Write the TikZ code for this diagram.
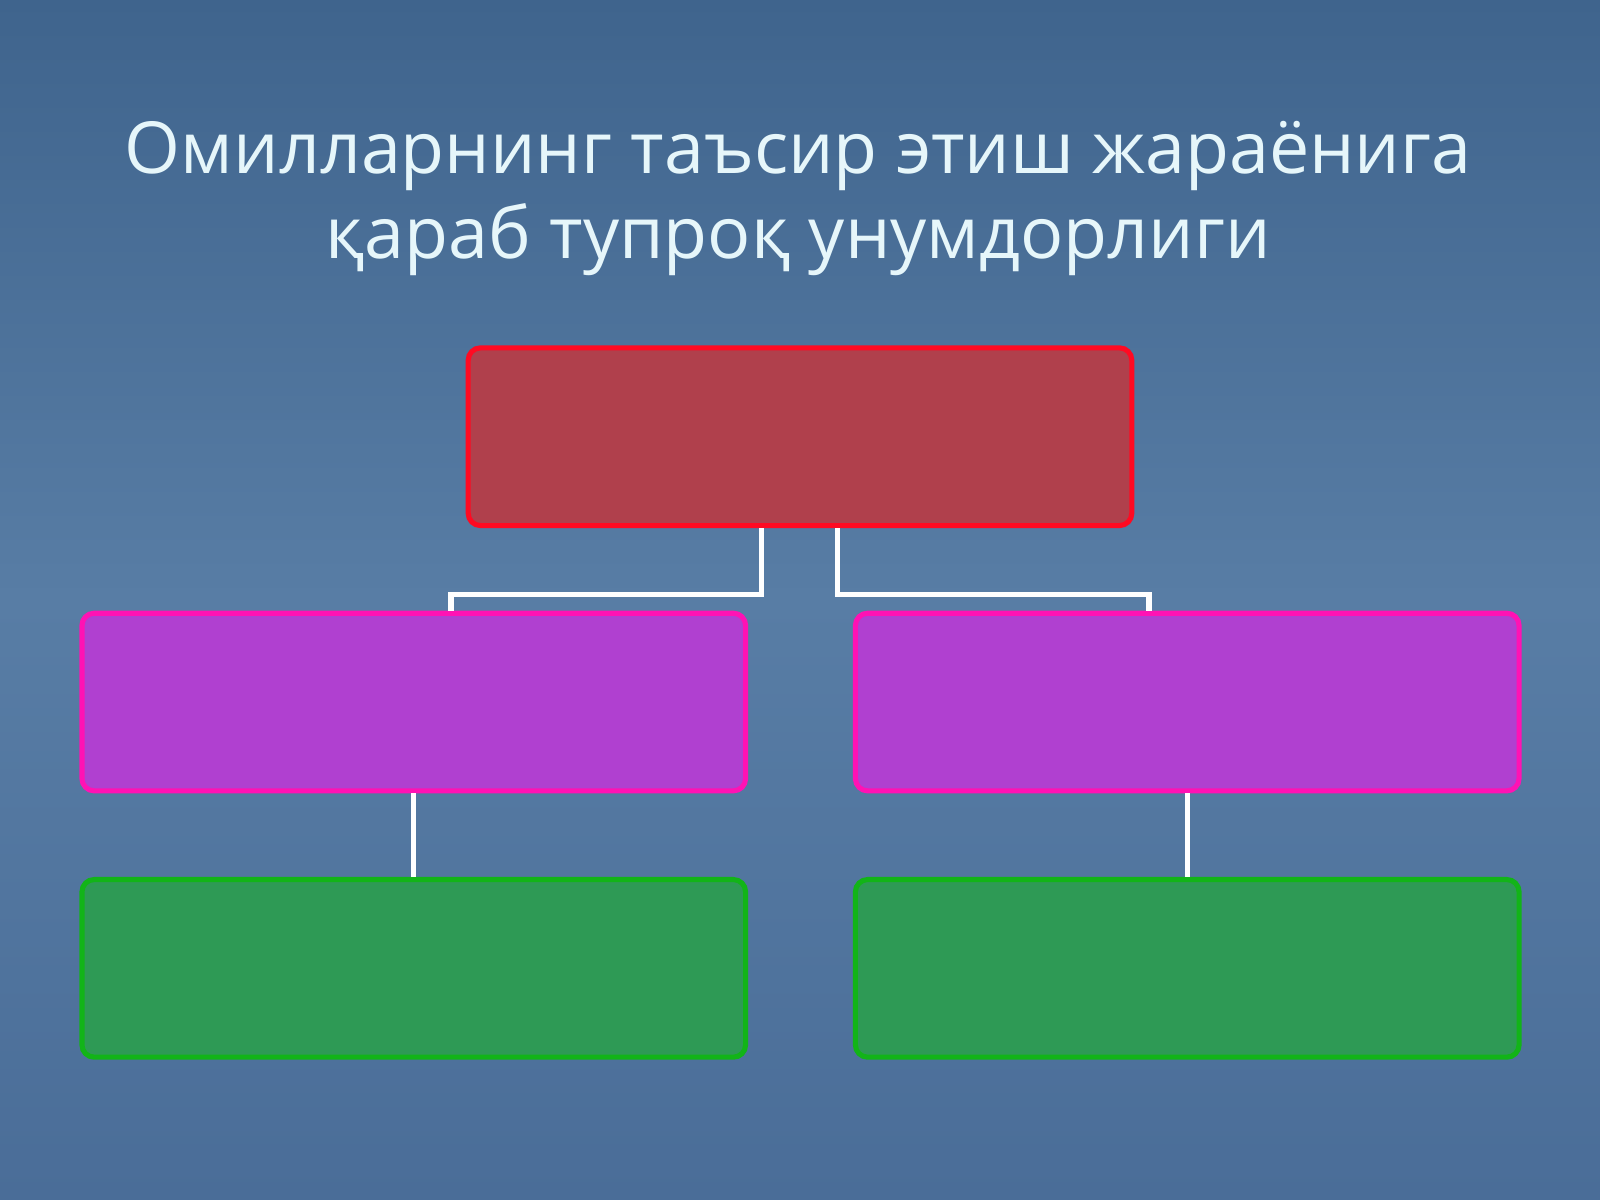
\documentclass[tikz,border=0pt]{standalone}
\usepackage{fontspec}
\setmainfont{Open Sans}
\definecolor{bgtop}{HTML}{3F648D}
\definecolor{bgmid}{HTML}{587DA5}
\definecolor{bgbot}{HTML}{4A6D98}
\definecolor{titlec}{HTML}{E6F6FA}
\definecolor{redfill}{HTML}{B0404C}
\definecolor{redline}{HTML}{FF0A22}
\definecolor{purfill}{HTML}{B040D0}
\definecolor{purline}{HTML}{FF12B4}
\definecolor{grnfill}{HTML}{2E9A55}
\definecolor{grnline}{HTML}{12B418}
\tikzset{
  boxbase/.style={rectangle, rounded corners=0.12cm, line width=0.05cm, minimum width=6.5cm, minimum height=1.74cm, inner sep=0pt},
  redbox/.style={boxbase, draw=redline, fill=redfill},
  purbox/.style={boxbase, draw=purline, fill=purfill},
  grnbox/.style={boxbase, draw=grnline, fill=grnfill},
  conn/.style={draw=white, line width=0.05cm},
  titletext/.style={text=titlec, font=\fontsize{20}{24}\selectfont, anchor=base, inner sep=0pt}
}
\begin{document}
\begin{tikzpicture}[x=0.01cm, y=-0.01cm]
\shade[top color=bgtop, bottom color=bgbot, middle color=bgmid] (0,0) rectangle (1568,1176);
\useasboundingbox (0,0) rectangle (1568,1176);
\node[titletext] (t1) at (782,170) {Омилларнинг таъсир этиш жараёнига};
\node[titletext] (t2) at (782,253) {қараб тупроқ унумдорлиги};
\node[redbox] (red) at (784,428) {};
\node[purbox] (pl) at (405.5,688) {};
\node[purbox] (pr) at (1163.5,688) {};
\node[grnbox] (gl) at (405.5,949) {};
\node[grnbox] (gr) at (1163.5,949) {};
\draw[conn] (red.south -| 746,0) |- (442,583) -- (pl.north -| 442,0);
\draw[conn] (red.south -| 821,0) |- (1126,583) -- (pr.north -| 1126,0);
\draw[conn] (pl.south) -- (gl.north);
\draw[conn] (pr.south) -- (gr.north);
\end{tikzpicture}
\end{document}
